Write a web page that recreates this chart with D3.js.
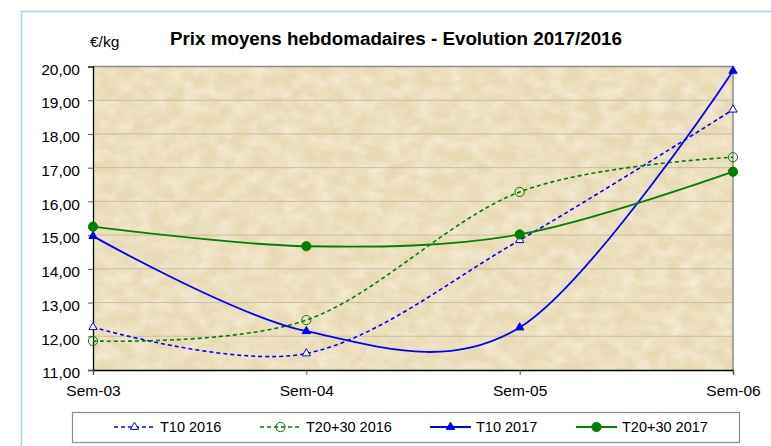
<!DOCTYPE html>
<html>
<head>
<meta charset="utf-8">
<script src="https://cdn.jsdelivr.net/npm/d3@7"></script>
<style>
  body { margin: 0; background: #fff; }
  text { font-family: "Liberation Sans", Arial, sans-serif; fill: #000; }
</style>
</head>
<body>
<svg width="771" height="446"></svg>
<script>
let weeks = ['Sem-03', 'Sem-04', 'Sem-05', 'Sem-06'];
let t10_2016 = [12.27, 11.49, 14.85, 18.72];
let t2030_2016 = [11.86, 12.48, 16.28, 17.31];
let t10_2017 = [14.97, 12.15, 12.26, 19.87];
let t2030_2017 = [15.25, 14.67, 15.02, 16.88];
let yTicks = [11, 12, 13, 14, 15, 16, 17, 18, 19, 20];

let series = [
  { name: 'T10 2016', values: t10_2016, color: '#0000ff', dash: '4,3', shape: 'tri', filled: false },
  { name: 'T20+30 2016', values: t2030_2016, color: '#008000', dash: '4,3', shape: 'circle', filled: false },
  { name: 'T10 2017', values: t10_2017, color: '#0000ff', dash: null, shape: 'tri', filled: true },
  { name: 'T20+30 2017', values: t2030_2017, color: '#008000', dash: null, shape: 'circle', filled: true }
];

let svg = d3.select('svg');
let plot = { left: 93, right: 733, top: 66.5, bottom: 370 };

let x = d3.scalePoint().domain(weeks).range([plot.left, plot.right]);
let y = d3.scaleLinear().domain([11, 20]).range([plot.bottom, plot.top]);
let fr = d3.formatLocale({ decimal: ',', thousands: ' ', grouping: [3], currency: ['', '€'] }).format('.2f');

// outer frame
svg.append('rect')
    .attr('x', 21.5).attr('y', 11.5)
    .attr('width', 800).attr('height', 500)
    .attr('fill', '#fff')
    .attr('stroke', '#9dd6f2')
    .attr('stroke-width', 1.5);

// paper texture
let defs = svg.append('defs');
let f = defs.append('filter').attr('id', 'paper')
    .attr('x', 0).attr('y', 0).attr('width', 1).attr('height', 1);
f.append('feTurbulence')
    .attr('type', 'fractalNoise')
    .attr('baseFrequency', '0.06 0.08')
    .attr('numOctaves', 4)
    .attr('seed', 7);
f.append('feColorMatrix')
    .attr('type', 'matrix')
    .attr('values', '0 0 0 0 1  0 0 0 0 0.97  0 0 0 0 0.89  0.9 0 0 0 -0.28');

svg.append('rect')
    .attr('x', plot.left).attr('y', plot.top)
    .attr('width', plot.right - plot.left).attr('height', plot.bottom - plot.top)
    .attr('fill', '#e9dab4');
svg.append('rect')
    .attr('x', plot.left).attr('y', plot.top)
    .attr('width', plot.right - plot.left).attr('height', plot.bottom - plot.top)
    .attr('filter', 'url(#paper)');

// gridlines
svg.append('g').selectAll('line')
    .data(yTicks.slice(1, -1))
  .enter().append('line')
    .attr('x1', plot.left).attr('x2', plot.right)
    .attr('y1', (d) => y(d)).attr('y2', (d) => y(d))
    .attr('stroke', '#c8bea4')
    .attr('stroke-width', 1);

// top & right border
svg.append('path')
    .attr('d', `M${plot.left},${plot.top}H${plot.right}V${plot.bottom}`)
    .attr('fill', 'none')
    .attr('stroke', '#8a8a8a')
    .attr('stroke-width', 1.5);

// axes
let yAxis = svg.append('g')
    .attr('transform', `translate(${plot.left},0)`)
    .call(d3.axisLeft(y).tickValues(yTicks).tickSize(5).tickPadding(8).tickFormat(fr));
let xAxis = svg.append('g')
    .attr('transform', `translate(0,${plot.bottom})`)
    .call(d3.axisBottom(x).tickSize(5).tickPadding(6));

[yAxis, xAxis].forEach((a) => {
  a.select('.domain').attr('stroke', '#000').attr('stroke-width', 1.3);
  a.selectAll('.tick line').attr('stroke', '#555');
  a.selectAll('text').attr('font-size', 15.5).attr('font-family', '"Liberation Sans", Arial, sans-serif').attr('fill', '#000');
});
xAxis.selectAll('text').attr('dy', '0.95em');
yAxis.selectAll('text').attr('dy', '0.5em');

// lines
let line = d3.line()
    .x((d, i) => x(weeks[i]))
    .y((d) => y(d))
    .curve(d3.curveCatmullRom.alpha(0));

let tri = d3.symbol().type(d3.symbolTriangle).size(30);

function marker(sel, s) {
  if (s.shape === 'tri') {
    sel.append('path').attr('d', tri)
        .attr('fill', s.filled ? s.color : '#fff')
        .attr('stroke', s.color).attr('stroke-width', 1);
  } else {
    sel.append('circle').attr('r', 4.6)
        .attr('fill', s.filled ? s.color : 'none')
        .attr('stroke', s.color).attr('stroke-width', 1);
  }
}

series.forEach((s) => {
  let g = svg.append('g');
  g.append('path')
      .attr('d', line(s.values))
      .attr('fill', 'none')
      .attr('stroke', s.color)
      .attr('stroke-width', s.dash ? 1.6 : 1.8)
      .attr('stroke-dasharray', s.dash);
  g.selectAll('g.pt')
      .data(s.values)
    .enter().append('g')
      .attr('class', 'pt')
      .attr('transform', (d, i) => `translate(${x(weeks[i])},${y(d)})`)
      .each(function () { marker(d3.select(this), s); });
});

// titles
svg.append('text')
    .attr('x', 396).attr('y', 45)
    .attr('text-anchor', 'middle')
    .attr('font-size', 18.8)
    .attr('font-weight', 'bold')
    .text('Prix moyens hebdomadaires - Evolution 2017/2016');
svg.append('text')
    .attr('x', 90).attr('y', 47)
    .attr('font-size', 15.5)
    .text('€/kg');

// legend
let legendX = [114, 260, 430, 576];
let lg = svg.append('g');
lg.append('rect')
    .attr('x', 72.5).attr('y', 412.5)
    .attr('width', 667).attr('height', 30)
    .attr('fill', '#fff')
    .attr('stroke', '#8a8a8a')
    .attr('stroke-width', 1.2);
let item = lg.selectAll('g.item')
    .data(series)
  .enter().append('g')
    .attr('class', 'item')
    .attr('transform', (d, i) => `translate(${legendX[i]},427)`);
item.append('line')
    .attr('x1', 0).attr('x2', 41)
    .attr('stroke', (d) => d.color)
    .attr('stroke-width', (d) => d.dash ? 1.6 : 1.8)
    .attr('stroke-dasharray', (d) => d.dash);
item.append('g')
    .attr('transform', 'translate(20.5,0)')
    .each(function (d) { marker(d3.select(this), d); });
item.append('text')
    .attr('x', 46).attr('y', 5)
    .attr('font-size', 14.5)
    .text((d) => d.name);
</script>
</body>
</html>
